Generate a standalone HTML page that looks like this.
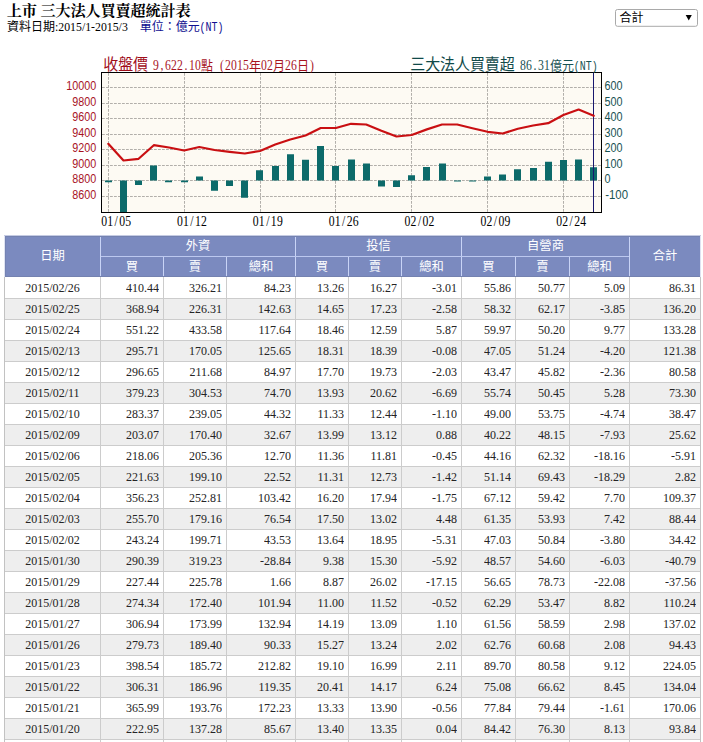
<!DOCTYPE html>
<html><head><meta charset="utf-8"><title>TWSE institutional investors net buy/sell</title>
<style>
html,body{margin:0;padding:0;background:#fff}
body{width:703px;height:742px;position:relative;overflow:hidden;font-family:"Liberation Serif",serif;font-size:12px;color:#242424}
.r{position:absolute;left:5px;width:695px;height:20px;line-height:20px}
.c{position:absolute;top:-1px;height:20px;text-align:right;white-space:nowrap;transform:scaleY(1.07);transform-origin:50% 6px}
.c.d{text-align:center}
svg.ov{position:absolute;left:0;top:0}
</style></head><body>
<div style="position:absolute;left:5px;top:236px;width:695px;height:41px;background:#7b8abf"></div><div style="position:absolute;left:100px;top:236px;width:1px;height:41px;background:#c9d4f6"></div><div style="position:absolute;left:163px;top:257px;width:1px;height:20px;background:#c9d4f6"></div><div style="position:absolute;left:226px;top:257px;width:1px;height:20px;background:#c9d4f6"></div><div style="position:absolute;left:295px;top:236px;width:1px;height:41px;background:#c9d4f6"></div><div style="position:absolute;left:348px;top:257px;width:1px;height:20px;background:#c9d4f6"></div><div style="position:absolute;left:401px;top:257px;width:1px;height:20px;background:#c9d4f6"></div><div style="position:absolute;left:461px;top:236px;width:1px;height:41px;background:#c9d4f6"></div><div style="position:absolute;left:515px;top:257px;width:1px;height:20px;background:#c9d4f6"></div><div style="position:absolute;left:569px;top:257px;width:1px;height:20px;background:#c9d4f6"></div><div style="position:absolute;left:629px;top:236px;width:1px;height:41px;background:#c9d4f6"></div><div style="position:absolute;left:101px;top:256px;width:528px;height:1px;background:#bcc8ef"></div><div style="position:absolute;left:5px;top:236px;width:695px;height:1px;background:#7482b0"></div><div style="position:absolute;left:4px;top:235px;width:697px;height:1px;background:#c5cbe3"></div><div style="position:absolute;left:4px;top:236px;width:1px;height:41px;background:#dfe3f2"></div><div style="position:absolute;left:700px;top:236px;width:1px;height:41px;background:#dfe3f2"></div><div style="position:absolute;left:5px;top:236px;width:1px;height:41px;background:#7583b2"></div><div style="position:absolute;left:5px;top:276px;width:695px;height:1px;background:#7482b0"></div><div class="r" style="top:278px;background:#fff"><span class="c d" style="left:0;width:95px">2015/02/26</span><span class="c" style="left:96px;width:58px">410.44</span><span class="c" style="left:159px;width:58px">326.21</span><span class="c" style="left:222px;width:64px">84.23</span><span class="c" style="left:291px;width:48px">13.26</span><span class="c" style="left:344px;width:48px">16.27</span><span class="c" style="left:397px;width:55px">-3.01</span><span class="c" style="left:457px;width:49px">55.86</span><span class="c" style="left:511px;width:49px">50.77</span><span class="c" style="left:565px;width:55px">5.09</span><span class="c" style="left:625px;width:66px">86.31</span></div><div style="position:absolute;left:5px;top:298px;width:695px;height:1px;background:#cccccc"></div><div class="r" style="top:299px;background:#eee"><span class="c d" style="left:0;width:95px">2015/02/25</span><span class="c" style="left:96px;width:58px">368.94</span><span class="c" style="left:159px;width:58px">226.31</span><span class="c" style="left:222px;width:64px">142.63</span><span class="c" style="left:291px;width:48px">14.65</span><span class="c" style="left:344px;width:48px">17.23</span><span class="c" style="left:397px;width:55px">-2.58</span><span class="c" style="left:457px;width:49px">58.32</span><span class="c" style="left:511px;width:49px">62.17</span><span class="c" style="left:565px;width:55px">-3.85</span><span class="c" style="left:625px;width:66px">136.20</span></div><div style="position:absolute;left:5px;top:319px;width:695px;height:1px;background:#cccccc"></div><div class="r" style="top:320px;background:#fff"><span class="c d" style="left:0;width:95px">2015/02/24</span><span class="c" style="left:96px;width:58px">551.22</span><span class="c" style="left:159px;width:58px">433.58</span><span class="c" style="left:222px;width:64px">117.64</span><span class="c" style="left:291px;width:48px">18.46</span><span class="c" style="left:344px;width:48px">12.59</span><span class="c" style="left:397px;width:55px">5.87</span><span class="c" style="left:457px;width:49px">59.97</span><span class="c" style="left:511px;width:49px">50.20</span><span class="c" style="left:565px;width:55px">9.77</span><span class="c" style="left:625px;width:66px">133.28</span></div><div style="position:absolute;left:5px;top:340px;width:695px;height:1px;background:#cccccc"></div><div class="r" style="top:341px;background:#eee"><span class="c d" style="left:0;width:95px">2015/02/13</span><span class="c" style="left:96px;width:58px">295.71</span><span class="c" style="left:159px;width:58px">170.05</span><span class="c" style="left:222px;width:64px">125.65</span><span class="c" style="left:291px;width:48px">18.31</span><span class="c" style="left:344px;width:48px">18.39</span><span class="c" style="left:397px;width:55px">-0.08</span><span class="c" style="left:457px;width:49px">47.05</span><span class="c" style="left:511px;width:49px">51.24</span><span class="c" style="left:565px;width:55px">-4.20</span><span class="c" style="left:625px;width:66px">121.38</span></div><div style="position:absolute;left:5px;top:361px;width:695px;height:1px;background:#cccccc"></div><div class="r" style="top:362px;background:#fff"><span class="c d" style="left:0;width:95px">2015/02/12</span><span class="c" style="left:96px;width:58px">296.65</span><span class="c" style="left:159px;width:58px">211.68</span><span class="c" style="left:222px;width:64px">84.97</span><span class="c" style="left:291px;width:48px">17.70</span><span class="c" style="left:344px;width:48px">19.73</span><span class="c" style="left:397px;width:55px">-2.03</span><span class="c" style="left:457px;width:49px">43.47</span><span class="c" style="left:511px;width:49px">45.82</span><span class="c" style="left:565px;width:55px">-2.36</span><span class="c" style="left:625px;width:66px">80.58</span></div><div style="position:absolute;left:5px;top:382px;width:695px;height:1px;background:#cccccc"></div><div class="r" style="top:383px;background:#eee"><span class="c d" style="left:0;width:95px">2015/02/11</span><span class="c" style="left:96px;width:58px">379.23</span><span class="c" style="left:159px;width:58px">304.53</span><span class="c" style="left:222px;width:64px">74.70</span><span class="c" style="left:291px;width:48px">13.93</span><span class="c" style="left:344px;width:48px">20.62</span><span class="c" style="left:397px;width:55px">-6.69</span><span class="c" style="left:457px;width:49px">55.74</span><span class="c" style="left:511px;width:49px">50.45</span><span class="c" style="left:565px;width:55px">5.28</span><span class="c" style="left:625px;width:66px">73.30</span></div><div style="position:absolute;left:5px;top:403px;width:695px;height:1px;background:#cccccc"></div><div class="r" style="top:404px;background:#fff"><span class="c d" style="left:0;width:95px">2015/02/10</span><span class="c" style="left:96px;width:58px">283.37</span><span class="c" style="left:159px;width:58px">239.05</span><span class="c" style="left:222px;width:64px">44.32</span><span class="c" style="left:291px;width:48px">11.33</span><span class="c" style="left:344px;width:48px">12.44</span><span class="c" style="left:397px;width:55px">-1.10</span><span class="c" style="left:457px;width:49px">49.00</span><span class="c" style="left:511px;width:49px">53.75</span><span class="c" style="left:565px;width:55px">-4.74</span><span class="c" style="left:625px;width:66px">38.47</span></div><div style="position:absolute;left:5px;top:424px;width:695px;height:1px;background:#cccccc"></div><div class="r" style="top:425px;background:#eee"><span class="c d" style="left:0;width:95px">2015/02/09</span><span class="c" style="left:96px;width:58px">203.07</span><span class="c" style="left:159px;width:58px">170.40</span><span class="c" style="left:222px;width:64px">32.67</span><span class="c" style="left:291px;width:48px">13.99</span><span class="c" style="left:344px;width:48px">13.12</span><span class="c" style="left:397px;width:55px">0.88</span><span class="c" style="left:457px;width:49px">40.22</span><span class="c" style="left:511px;width:49px">48.15</span><span class="c" style="left:565px;width:55px">-7.93</span><span class="c" style="left:625px;width:66px">25.62</span></div><div style="position:absolute;left:5px;top:445px;width:695px;height:1px;background:#cccccc"></div><div class="r" style="top:446px;background:#fff"><span class="c d" style="left:0;width:95px">2015/02/06</span><span class="c" style="left:96px;width:58px">218.06</span><span class="c" style="left:159px;width:58px">205.36</span><span class="c" style="left:222px;width:64px">12.70</span><span class="c" style="left:291px;width:48px">11.36</span><span class="c" style="left:344px;width:48px">11.81</span><span class="c" style="left:397px;width:55px">-0.45</span><span class="c" style="left:457px;width:49px">44.16</span><span class="c" style="left:511px;width:49px">62.32</span><span class="c" style="left:565px;width:55px">-18.16</span><span class="c" style="left:625px;width:66px">-5.91</span></div><div style="position:absolute;left:5px;top:466px;width:695px;height:1px;background:#cccccc"></div><div class="r" style="top:467px;background:#eee"><span class="c d" style="left:0;width:95px">2015/02/05</span><span class="c" style="left:96px;width:58px">221.63</span><span class="c" style="left:159px;width:58px">199.10</span><span class="c" style="left:222px;width:64px">22.52</span><span class="c" style="left:291px;width:48px">11.31</span><span class="c" style="left:344px;width:48px">12.73</span><span class="c" style="left:397px;width:55px">-1.42</span><span class="c" style="left:457px;width:49px">51.14</span><span class="c" style="left:511px;width:49px">69.43</span><span class="c" style="left:565px;width:55px">-18.29</span><span class="c" style="left:625px;width:66px">2.82</span></div><div style="position:absolute;left:5px;top:487px;width:695px;height:1px;background:#cccccc"></div><div class="r" style="top:488px;background:#fff"><span class="c d" style="left:0;width:95px">2015/02/04</span><span class="c" style="left:96px;width:58px">356.23</span><span class="c" style="left:159px;width:58px">252.81</span><span class="c" style="left:222px;width:64px">103.42</span><span class="c" style="left:291px;width:48px">16.20</span><span class="c" style="left:344px;width:48px">17.94</span><span class="c" style="left:397px;width:55px">-1.75</span><span class="c" style="left:457px;width:49px">67.12</span><span class="c" style="left:511px;width:49px">59.42</span><span class="c" style="left:565px;width:55px">7.70</span><span class="c" style="left:625px;width:66px">109.37</span></div><div style="position:absolute;left:5px;top:508px;width:695px;height:1px;background:#cccccc"></div><div class="r" style="top:509px;background:#eee"><span class="c d" style="left:0;width:95px">2015/02/03</span><span class="c" style="left:96px;width:58px">255.70</span><span class="c" style="left:159px;width:58px">179.16</span><span class="c" style="left:222px;width:64px">76.54</span><span class="c" style="left:291px;width:48px">17.50</span><span class="c" style="left:344px;width:48px">13.02</span><span class="c" style="left:397px;width:55px">4.48</span><span class="c" style="left:457px;width:49px">61.35</span><span class="c" style="left:511px;width:49px">53.93</span><span class="c" style="left:565px;width:55px">7.42</span><span class="c" style="left:625px;width:66px">88.44</span></div><div style="position:absolute;left:5px;top:529px;width:695px;height:1px;background:#cccccc"></div><div class="r" style="top:530px;background:#fff"><span class="c d" style="left:0;width:95px">2015/02/02</span><span class="c" style="left:96px;width:58px">243.24</span><span class="c" style="left:159px;width:58px">199.71</span><span class="c" style="left:222px;width:64px">43.53</span><span class="c" style="left:291px;width:48px">13.64</span><span class="c" style="left:344px;width:48px">18.95</span><span class="c" style="left:397px;width:55px">-5.31</span><span class="c" style="left:457px;width:49px">47.03</span><span class="c" style="left:511px;width:49px">50.84</span><span class="c" style="left:565px;width:55px">-3.80</span><span class="c" style="left:625px;width:66px">34.42</span></div><div style="position:absolute;left:5px;top:550px;width:695px;height:1px;background:#cccccc"></div><div class="r" style="top:551px;background:#eee"><span class="c d" style="left:0;width:95px">2015/01/30</span><span class="c" style="left:96px;width:58px">290.39</span><span class="c" style="left:159px;width:58px">319.23</span><span class="c" style="left:222px;width:64px">-28.84</span><span class="c" style="left:291px;width:48px">9.38</span><span class="c" style="left:344px;width:48px">15.30</span><span class="c" style="left:397px;width:55px">-5.92</span><span class="c" style="left:457px;width:49px">48.57</span><span class="c" style="left:511px;width:49px">54.60</span><span class="c" style="left:565px;width:55px">-6.03</span><span class="c" style="left:625px;width:66px">-40.79</span></div><div style="position:absolute;left:5px;top:571px;width:695px;height:1px;background:#cccccc"></div><div class="r" style="top:572px;background:#fff"><span class="c d" style="left:0;width:95px">2015/01/29</span><span class="c" style="left:96px;width:58px">227.44</span><span class="c" style="left:159px;width:58px">225.78</span><span class="c" style="left:222px;width:64px">1.66</span><span class="c" style="left:291px;width:48px">8.87</span><span class="c" style="left:344px;width:48px">26.02</span><span class="c" style="left:397px;width:55px">-17.15</span><span class="c" style="left:457px;width:49px">56.65</span><span class="c" style="left:511px;width:49px">78.73</span><span class="c" style="left:565px;width:55px">-22.08</span><span class="c" style="left:625px;width:66px">-37.56</span></div><div style="position:absolute;left:5px;top:592px;width:695px;height:1px;background:#cccccc"></div><div class="r" style="top:593px;background:#eee"><span class="c d" style="left:0;width:95px">2015/01/28</span><span class="c" style="left:96px;width:58px">274.34</span><span class="c" style="left:159px;width:58px">172.40</span><span class="c" style="left:222px;width:64px">101.94</span><span class="c" style="left:291px;width:48px">11.00</span><span class="c" style="left:344px;width:48px">11.52</span><span class="c" style="left:397px;width:55px">-0.52</span><span class="c" style="left:457px;width:49px">62.29</span><span class="c" style="left:511px;width:49px">53.47</span><span class="c" style="left:565px;width:55px">8.82</span><span class="c" style="left:625px;width:66px">110.24</span></div><div style="position:absolute;left:5px;top:613px;width:695px;height:1px;background:#cccccc"></div><div class="r" style="top:614px;background:#fff"><span class="c d" style="left:0;width:95px">2015/01/27</span><span class="c" style="left:96px;width:58px">306.94</span><span class="c" style="left:159px;width:58px">173.99</span><span class="c" style="left:222px;width:64px">132.94</span><span class="c" style="left:291px;width:48px">14.19</span><span class="c" style="left:344px;width:48px">13.09</span><span class="c" style="left:397px;width:55px">1.10</span><span class="c" style="left:457px;width:49px">61.56</span><span class="c" style="left:511px;width:49px">58.59</span><span class="c" style="left:565px;width:55px">2.98</span><span class="c" style="left:625px;width:66px">137.02</span></div><div style="position:absolute;left:5px;top:634px;width:695px;height:1px;background:#cccccc"></div><div class="r" style="top:635px;background:#eee"><span class="c d" style="left:0;width:95px">2015/01/26</span><span class="c" style="left:96px;width:58px">279.73</span><span class="c" style="left:159px;width:58px">189.40</span><span class="c" style="left:222px;width:64px">90.33</span><span class="c" style="left:291px;width:48px">15.27</span><span class="c" style="left:344px;width:48px">13.24</span><span class="c" style="left:397px;width:55px">2.02</span><span class="c" style="left:457px;width:49px">62.76</span><span class="c" style="left:511px;width:49px">60.68</span><span class="c" style="left:565px;width:55px">2.08</span><span class="c" style="left:625px;width:66px">94.43</span></div><div style="position:absolute;left:5px;top:655px;width:695px;height:1px;background:#cccccc"></div><div class="r" style="top:656px;background:#fff"><span class="c d" style="left:0;width:95px">2015/01/23</span><span class="c" style="left:96px;width:58px">398.54</span><span class="c" style="left:159px;width:58px">185.72</span><span class="c" style="left:222px;width:64px">212.82</span><span class="c" style="left:291px;width:48px">19.10</span><span class="c" style="left:344px;width:48px">16.99</span><span class="c" style="left:397px;width:55px">2.11</span><span class="c" style="left:457px;width:49px">89.70</span><span class="c" style="left:511px;width:49px">80.58</span><span class="c" style="left:565px;width:55px">9.12</span><span class="c" style="left:625px;width:66px">224.05</span></div><div style="position:absolute;left:5px;top:676px;width:695px;height:1px;background:#cccccc"></div><div class="r" style="top:677px;background:#eee"><span class="c d" style="left:0;width:95px">2015/01/22</span><span class="c" style="left:96px;width:58px">306.31</span><span class="c" style="left:159px;width:58px">186.96</span><span class="c" style="left:222px;width:64px">119.35</span><span class="c" style="left:291px;width:48px">20.41</span><span class="c" style="left:344px;width:48px">14.17</span><span class="c" style="left:397px;width:55px">6.24</span><span class="c" style="left:457px;width:49px">75.08</span><span class="c" style="left:511px;width:49px">66.62</span><span class="c" style="left:565px;width:55px">8.45</span><span class="c" style="left:625px;width:66px">134.04</span></div><div style="position:absolute;left:5px;top:697px;width:695px;height:1px;background:#cccccc"></div><div class="r" style="top:698px;background:#fff"><span class="c d" style="left:0;width:95px">2015/01/21</span><span class="c" style="left:96px;width:58px">365.99</span><span class="c" style="left:159px;width:58px">193.76</span><span class="c" style="left:222px;width:64px">172.23</span><span class="c" style="left:291px;width:48px">13.33</span><span class="c" style="left:344px;width:48px">13.90</span><span class="c" style="left:397px;width:55px">-0.56</span><span class="c" style="left:457px;width:49px">77.84</span><span class="c" style="left:511px;width:49px">79.44</span><span class="c" style="left:565px;width:55px">-1.61</span><span class="c" style="left:625px;width:66px">170.06</span></div><div style="position:absolute;left:5px;top:718px;width:695px;height:1px;background:#cccccc"></div><div class="r" style="top:719px;background:#eee"><span class="c d" style="left:0;width:95px">2015/01/20</span><span class="c" style="left:96px;width:58px">222.95</span><span class="c" style="left:159px;width:58px">137.28</span><span class="c" style="left:222px;width:64px">85.67</span><span class="c" style="left:291px;width:48px">13.40</span><span class="c" style="left:344px;width:48px">13.35</span><span class="c" style="left:397px;width:55px">0.04</span><span class="c" style="left:457px;width:49px">84.42</span><span class="c" style="left:511px;width:49px">76.30</span><span class="c" style="left:565px;width:55px">8.13</span><span class="c" style="left:625px;width:66px">93.84</span></div><div style="position:absolute;left:5px;top:739px;width:695px;height:1px;background:#cccccc"></div><div class="r" style="top:740px;background:#fff"></div><div style="position:absolute;left:5px;top:760px;width:695px;height:1px;background:#cccccc"></div><div style="position:absolute;left:100px;top:277px;width:1px;height:465px;background:#cccccc"></div><div style="position:absolute;left:163px;top:277px;width:1px;height:465px;background:#cccccc"></div><div style="position:absolute;left:226px;top:277px;width:1px;height:465px;background:#cccccc"></div><div style="position:absolute;left:295px;top:277px;width:1px;height:465px;background:#cccccc"></div><div style="position:absolute;left:348px;top:277px;width:1px;height:465px;background:#cccccc"></div><div style="position:absolute;left:401px;top:277px;width:1px;height:465px;background:#cccccc"></div><div style="position:absolute;left:461px;top:277px;width:1px;height:465px;background:#cccccc"></div><div style="position:absolute;left:515px;top:277px;width:1px;height:465px;background:#cccccc"></div><div style="position:absolute;left:569px;top:277px;width:1px;height:465px;background:#cccccc"></div><div style="position:absolute;left:629px;top:277px;width:1px;height:465px;background:#cccccc"></div><div style="position:absolute;left:4px;top:277px;width:1px;height:465px;background:#c2c2c2"></div><div style="position:absolute;left:700px;top:277px;width:1px;height:465px;background:#c2c2c2"></div>
<svg class="ov" width="703" height="742" viewBox="0 0 703 742">
<rect x="101.5" y="72.5" width="500" height="140" fill="#fdfaf3" stroke="#000" stroke-width="1"/><path d="M102 87.5H601M102 103.5H601M102 118.5H601M102 134.5H601M102 149.5H601M102 165.5H601M102 180.5H601M102 196.5H601M108.5 73V212M184.5 73V212M260.5 73V212M335.5 73V212M411.5 73V212M487.5 73V212M563.5 73V212" stroke="#b2afaa" stroke-width="1" stroke-dasharray="2.8 1.2" fill="none"/><path d="M105 180.6h7V182.2h-7zM120 180.6h7V212.0h-7zM135 180.6h7V185.1h-7zM150 165.4h7V180.6h-7zM165 180.6h7V182.2h-7zM181 180.6h7V182.2h-7zM196 176.4h7V180.6h-7zM211 180.6h7V190.8h-7zM226 180.6h7V186.0h-7zM241 180.6h7V197.8h-7zM256 170.2h7V180.6h-7zM272 166.1h7V180.6h-7zM287 154.2h7V180.6h-7zM302 159.8h7V180.6h-7zM317 145.9h7V180.6h-7zM332 166.0h7V180.6h-7zM348 159.4h7V180.6h-7zM363 163.5h7V180.6h-7zM378 180.6h7V186.4h-7zM393 180.6h7V186.9h-7zM408 175.3h7V180.6h-7zM423 166.9h7V180.6h-7zM439 163.6h7V180.6h-7zM454 180.4h7V181.5h-7zM469 180.6h7V181.5h-7zM484 176.6h7V180.6h-7zM499 174.6h7V180.6h-7zM514 169.2h7V180.6h-7zM530 168.1h7V180.6h-7zM545 161.8h7V180.6h-7zM560 159.9h7V180.6h-7zM575 159.5h7V180.6h-7zM590 167.2h7V180.6h-7z" fill="#0c6a6a"/><path d="M593.5 73V212" stroke="#17176e" stroke-width="1"/><polyline points="108.3,143.8 123.5,160.5 138.6,158.8 153.8,145.2 169.0,147.5 184.1,150.5 199.3,147.0 214.5,150.0 229.7,151.8 244.8,153.5 260.0,151.0 275.2,144.5 290.3,139.5 305.5,135.5 320.7,128.0 335.9,128.0 351.0,123.8 366.2,124.5 381.4,130.8 396.5,136.5 411.7,135.0 426.9,129.4 442.0,124.5 457.2,124.5 472.4,128.2 487.6,131.8 502.7,133.5 517.9,128.8 533.1,125.5 548.2,123.2 563.4,115.0 578.6,109.5 593.7,115.8" fill="none" stroke="#c90f12" stroke-width="2.2" stroke-linejoin="round" stroke-linecap="round"/><rect x="101.5" y="72.5" width="500" height="140" fill="none" stroke="#000" stroke-width="1"/><g font-family="Liberation Sans, sans-serif"><text x="96.3" y="89.8" text-anchor="end" fill="#a8141f" font-size="12" textLength="30.0" lengthAdjust="spacingAndGlyphs">10000</text><text x="96.3" y="105.8" text-anchor="end" fill="#a8141f" font-size="12" textLength="24.0" lengthAdjust="spacingAndGlyphs">9800</text><text x="96.3" y="120.8" text-anchor="end" fill="#a8141f" font-size="12" textLength="24.0" lengthAdjust="spacingAndGlyphs">9600</text><text x="96.3" y="136.8" text-anchor="end" fill="#a8141f" font-size="12" textLength="24.0" lengthAdjust="spacingAndGlyphs">9400</text><text x="96.3" y="151.8" text-anchor="end" fill="#a8141f" font-size="12" textLength="24.0" lengthAdjust="spacingAndGlyphs">9200</text><text x="96.3" y="167.8" text-anchor="end" fill="#a8141f" font-size="12" textLength="24.0" lengthAdjust="spacingAndGlyphs">9000</text><text x="96.3" y="182.8" text-anchor="end" fill="#a8141f" font-size="12" textLength="24.0" lengthAdjust="spacingAndGlyphs">8800</text><text x="96.3" y="198.8" text-anchor="end" fill="#a8141f" font-size="12" textLength="24.0" lengthAdjust="spacingAndGlyphs">8600</text><text x="604.6" y="89.8" text-anchor="start" fill="#175252" font-size="12" textLength="18.0" lengthAdjust="spacingAndGlyphs">600</text><text x="604.6" y="105.8" text-anchor="start" fill="#175252" font-size="12" textLength="18.0" lengthAdjust="spacingAndGlyphs">500</text><text x="604.6" y="120.8" text-anchor="start" fill="#175252" font-size="12" textLength="18.0" lengthAdjust="spacingAndGlyphs">400</text><text x="604.6" y="136.8" text-anchor="start" fill="#175252" font-size="12" textLength="18.0" lengthAdjust="spacingAndGlyphs">300</text><text x="604.6" y="151.8" text-anchor="start" fill="#175252" font-size="12" textLength="18.0" lengthAdjust="spacingAndGlyphs">200</text><text x="604.6" y="167.8" text-anchor="start" fill="#175252" font-size="12" textLength="18.0" lengthAdjust="spacingAndGlyphs">100</text><text x="604.6" y="182.8" text-anchor="start" fill="#175252" font-size="12" textLength="6.0" lengthAdjust="spacingAndGlyphs">0</text><text x="605.2" y="198.8" text-anchor="start" fill="#175252" font-size="12" textLength="22.8" lengthAdjust="spacingAndGlyphs">-100</text></g><text transform="translate(101.10,225.6) scale(0.9,1.04)" x="3.33 10.00 16.67 23.33 30.00" y="0" text-anchor="middle" fill="#000" font-size="13" font-family="Liberation Serif, serif">01/05</text><text transform="translate(176.95,225.6) scale(0.9,1.04)" x="3.33 10.00 16.67 23.33 30.00" y="0" text-anchor="middle" fill="#000" font-size="13" font-family="Liberation Serif, serif">01/12</text><text transform="translate(252.80,225.6) scale(0.9,1.04)" x="3.33 10.00 16.67 23.33 30.00" y="0" text-anchor="middle" fill="#000" font-size="13" font-family="Liberation Serif, serif">01/19</text><text transform="translate(328.65,225.6) scale(0.9,1.04)" x="3.33 10.00 16.67 23.33 30.00" y="0" text-anchor="middle" fill="#000" font-size="13" font-family="Liberation Serif, serif">01/26</text><text transform="translate(404.50,225.6) scale(0.9,1.04)" x="3.33 10.00 16.67 23.33 30.00" y="0" text-anchor="middle" fill="#000" font-size="13" font-family="Liberation Serif, serif">02/02</text><text transform="translate(480.35,225.6) scale(0.9,1.04)" x="3.33 10.00 16.67 23.33 30.00" y="0" text-anchor="middle" fill="#000" font-size="13" font-family="Liberation Serif, serif">02/09</text><text transform="translate(556.20,225.6) scale(0.9,1.04)" x="3.33 10.00 16.67 23.33 30.00" y="0" text-anchor="middle" fill="#000" font-size="13" font-family="Liberation Serif, serif">02/24</text><text transform="translate(103.30,69.90) scale(1,1.07)" x="0" y="0" fill="#a00e1a" font-size="15" font-family="&quot;Liberation Sans&quot;, &quot;Noto Sans CJK TC&quot;, sans-serif" textLength="44.8" lengthAdjust="spacing">收盤價</text><text transform="translate(153.00,69.6) scale(0.9,1.04)" x="3.33 10.00 16.67 23.33 30.00 36.67 43.33 50.00" y="0" text-anchor="middle" fill="#a8141f" font-size="13" font-family="Liberation Serif, serif">9,622.10</text><text transform="translate(201.00,69.50) scale(1,1.08)" x="0" y="0" fill="#a8141f" font-size="12" font-family="&quot;Liberation Sans&quot;, &quot;Noto Sans CJK TC&quot;, sans-serif">點</text><text transform="translate(219.00,69.6) scale(0.9,1.04)" x="3.33 10.00 16.67 23.33 30.00" y="0" text-anchor="middle" fill="#a8141f" font-size="13" font-family="Liberation Serif, serif">(2015</text><text transform="translate(249.00,69.50) scale(1,1.08)" x="0" y="0" fill="#a8141f" font-size="12" font-family="&quot;Liberation Sans&quot;, &quot;Noto Sans CJK TC&quot;, sans-serif">年</text><text transform="translate(261.00,69.6) scale(0.9,1.04)" x="3.33 10.00" y="0" text-anchor="middle" fill="#a8141f" font-size="13" font-family="Liberation Serif, serif">02</text><text transform="translate(273.00,69.50) scale(1,1.08)" x="0" y="0" fill="#a8141f" font-size="12" font-family="&quot;Liberation Sans&quot;, &quot;Noto Sans CJK TC&quot;, sans-serif">月</text><text transform="translate(285.00,69.6) scale(0.9,1.04)" x="3.33 10.00" y="0" text-anchor="middle" fill="#a8141f" font-size="13" font-family="Liberation Serif, serif">26</text><text transform="translate(297.00,69.50) scale(1,1.08)" x="0" y="0" fill="#a8141f" font-size="12" font-family="&quot;Liberation Sans&quot;, &quot;Noto Sans CJK TC&quot;, sans-serif">日</text><text transform="translate(309.00,69.6) scale(0.9,1.04)" x="3.33" y="0" text-anchor="middle" fill="#a8141f" font-size="13" font-family="Liberation Serif, serif">)</text><text transform="translate(410.30,70.30) scale(1,1.07)" x="0" y="0" fill="#114a4a" font-size="15" font-family="&quot;Liberation Sans&quot;, &quot;Noto Sans CJK TC&quot;, sans-serif" textLength="104.4" lengthAdjust="spacing">三大法人買賣超</text><text transform="translate(520.00,69.6) scale(0.9,1.04)" x="3.33 10.00 16.67 23.33 30.00" y="0" text-anchor="middle" fill="#175252" font-size="13" font-family="Liberation Serif, serif">86.31</text><text transform="translate(550.00,69.50) scale(1,1.08)" x="0" y="0" fill="#175252" font-size="12" font-family="&quot;Liberation Sans&quot;, &quot;Noto Sans CJK TC&quot;, sans-serif" textLength="24" lengthAdjust="spacing">億元</text><text transform="translate(573.70,69.6) scale(0.833,1.0)" x="3.60 10.80 18.01 25.21" y="0" text-anchor="middle" fill="#175252" font-size="12" font-family="Liberation Mono, monospace">(NT)</text><text x="6.7" y="16.2" fill="#000" font-size="15.2" font-weight="bold" font-family="&quot;Liberation Serif&quot;, &quot;Noto Serif CJK SC&quot;, serif" textLength="30.2" lengthAdjust="spacing">上市</text><text x="40.45" y="16.2" fill="#000" font-size="15.2" font-weight="bold" font-family="&quot;Liberation Serif&quot;, &quot;Noto Serif CJK SC&quot;, serif" textLength="150.2" lengthAdjust="spacing">三大法人買賣超統計表</text><text x="7" y="31.1" fill="#000" font-size="12" font-family="&quot;Liberation Sans&quot;, &quot;Noto Sans CJK TC&quot;, sans-serif" textLength="48" lengthAdjust="spacing">資料日期</text><text x="55" y="31" font-size="12" font-family="Liberation Serif, serif" fill="#000" textLength="72.8" lengthAdjust="spacingAndGlyphs">:2015/1-2015/3</text><text x="139.8" y="31.1" fill="#0f0f90" font-size="12" font-family="&quot;Liberation Sans&quot;, &quot;Noto Sans CJK TC&quot;, sans-serif" textLength="60" lengthAdjust="spacing">單位：億元</text><text transform="translate(199.60,31) scale(0.833,1.0)" x="3.60 10.80 18.01 25.21" y="0" text-anchor="middle" fill="#0f0f90" font-size="12" font-family="Liberation Mono, monospace">(NT)</text><rect x="615.5" y="9.5" width="82" height="16.8" rx="2" fill="#fff" stroke="#a9a9a9"/><text x="619.5" y="22.2" fill="#000" font-size="12" font-family="&quot;Liberation Sans&quot;, &quot;Noto Sans CJK TC&quot;, sans-serif" textLength="24" lengthAdjust="spacing">合計</text><path d="M685.7 15.1h6.1l-3.05 5.3z" fill="#000"/><g fill="#fff" font-size="12.3" font-family="&quot;Liberation Sans&quot;, &quot;Noto Sans CJK TC&quot;, sans-serif"><text x="40.2" y="260.47" textLength="24.6" lengthAdjust="spacing">日期</text><text x="185.7" y="249.97" textLength="24.6" lengthAdjust="spacing">外資</text><text x="366.2" y="249.97" textLength="24.6" lengthAdjust="spacing">投信</text><text x="527.05" y="249.97" textLength="36.9" lengthAdjust="spacing">自營商</text><text x="652.7" y="260.47" textLength="24.6" lengthAdjust="spacing">合計</text><text x="125.85" y="270.97">買</text><text x="188.85" y="270.97">賣</text><text x="248.7" y="270.97" textLength="24.6" lengthAdjust="spacing">總和</text><text x="315.85" y="270.97">買</text><text x="368.85" y="270.97">賣</text><text x="419.2" y="270.97" textLength="24.6" lengthAdjust="spacing">總和</text><text x="482.35" y="270.97">買</text><text x="536.35" y="270.97">賣</text><text x="587.2" y="270.97" textLength="24.6" lengthAdjust="spacing">總和</text></g>
</svg>
</body></html>
